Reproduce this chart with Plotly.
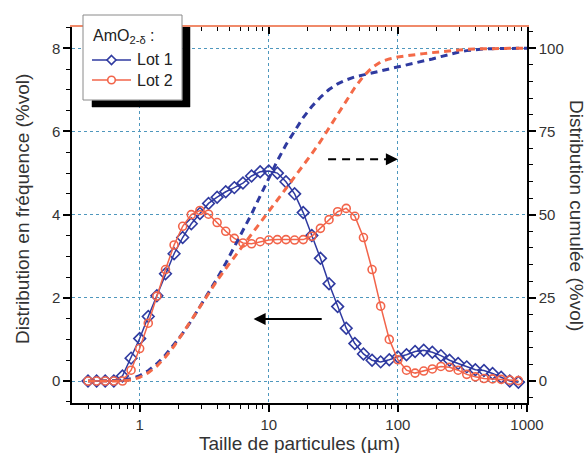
import math
import plotly.graph_objects as go

# ---------------- data ----------------
sizes = [0.398, 0.464, 0.541, 0.631, 0.736, 0.858, 1.000, 1.166, 1.359, 1.585,
         1.848, 2.154, 2.512, 2.929, 3.415, 3.981, 4.642, 5.412, 6.310, 7.356,
         8.577, 10.00, 11.66, 13.59, 15.85, 18.48, 21.54, 25.12, 29.29, 34.15,
         39.81, 46.42, 54.12, 63.10, 73.56, 85.77, 100.0, 116.6, 135.9, 158.5,
         184.8, 215.4, 251.2, 292.9, 341.5, 398.1, 464.2, 541.2, 631.0, 735.6,
         857.7]

lot1_freq = [0, 0, 0, 0, 0.12, 0.55, 1.02, 1.55, 2.05, 2.58,
             3.06, 3.45, 3.78, 4.03, 4.27, 4.42, 4.55, 4.65, 4.76, 4.93,
             5.03, 5.05, 5.00, 4.79, 4.50, 4.05, 3.50, 2.95, 2.34, 1.79,
             1.27, 0.90, 0.65, 0.50, 0.46, 0.51, 0.58, 0.63, 0.71, 0.74,
             0.69, 0.61, 0.50, 0.42, 0.34, 0.27, 0.25, 0.18, 0.09, 0.00,
             -0.03]

lot2_freq = [0, 0, 0, 0, 0, 0.26, 0.78, 1.39, 2.04, 2.68,
             3.27, 3.72, 4.00, 4.10, 4.01, 3.81, 3.60, 3.43, 3.32, 3.30,
             3.35, 3.39, 3.40, 3.40, 3.39, 3.40, 3.48, 3.67, 3.88, 4.07,
             4.15, 3.96, 3.45, 2.68, 1.80, 1.00, 0.51, 0.26, 0.19, 0.24,
             0.29, 0.35, 0.33, 0.26, 0.16, 0.10, 0.06, 0.05, 0.04, 0.02,
             0.01]

cum_sizes = sizes + [1000.0]

lot1_cum = [0, 0, 0, 0, 0.2, 0.7, 1.6, 3.1, 5.2, 7.8,
            10.9, 14.3, 18.1, 22.2, 26.5, 30.8, 35.4, 40.2, 45.2, 50.2,
            55.6, 61.0, 66.2, 71.0, 75.3, 79.2, 82.5, 85.3, 87.6, 89.3,
            90.5, 91.4, 92.0, 92.6, 93.1, 93.6, 94.2, 94.8, 95.4, 96.1,
            96.8, 97.5, 98.2, 98.8, 99.3, 99.6, 99.8, 99.9, 100, 100,
            100, 100]

lot2_cum = [0, 0, 0, 0, 0, 0.3, 1.1, 2.5, 4.5, 7.2,
            10.5, 14.3, 18.3, 22.4, 26.4, 30.2, 33.8, 37.3, 40.7, 44.1,
            47.5, 51.0, 54.4, 57.8, 61.3, 64.8, 68.3, 72.0, 76.0, 80.1,
            84.3, 88.2, 91.6, 94.2, 95.9, 96.8, 97.4, 97.8, 98.1, 98.4,
            98.7, 99.0, 99.3, 99.5, 99.7, 99.8, 99.9, 100, 100, 100,
            100, 100]

series_names = ["Lot 1", "Lot 2"]
legend_title = "AmO<sub>2-δ</sub> :"

x_ticks = [1, 10, 100, 1000]
x_tick_labels = ["1", "10", "100", "1000"]
x_minor = [0.4, 0.5, 0.6, 0.7, 0.8, 0.9,
           2, 3, 4, 5, 6, 7, 8, 9,
           20, 30, 40, 50, 60, 70, 80, 90,
           200, 300, 400, 500, 600, 700, 800, 900]
y_ticks = [0, 2, 4, 6, 8]
y2_ticks = [0, 25, 50, 75, 100]

# ---------------- style ----------------
FONT = "Liberation Sans, Arial, sans-serif"
BLUE = "#2f3aa0"
RED = "#f2644a"
RED_D = "#f46a48"
GRID = "#4f97bd"
TXT = "#333333"

W, H = 587, 453
ML, MR, MT, MB = 72, 60, 27, 50
PW, PH = W - ML - MR, H - MT - MB

X_RANGE = [-0.524, 3.0]
Y_RANGE = [-0.529, 8.512]
Y2_RANGE = [Y_RANGE[0] * 12.5, Y_RANGE[1] * 12.5]


def px(x):
    return (x - ML) / PW


def py(y):
    return (H - MB - y) / PH


def dx(x):
    # pixel -> data value on the log x axis
    return 10 ** (X_RANGE[0] + px(x) * (X_RANGE[1] - X_RANGE[0]))


def dy(y):
    return Y_RANGE[0] + py(y) * (Y_RANGE[1] - Y_RANGE[0])


fig = go.Figure()

fig.add_trace(go.Scatter(x=cum_sizes, y=lot1_cum, yaxis="y2", mode="lines",
                         line=dict(color=BLUE, width=3, dash="7px,5px"),
                         showlegend=False, hoverinfo="skip"))
fig.add_trace(go.Scatter(x=cum_sizes, y=lot2_cum, yaxis="y2", mode="lines",
                         line=dict(color=RED_D, width=3, dash="7px,5px"),
                         showlegend=False, hoverinfo="skip"))
fig.add_trace(go.Scatter(x=sizes, y=lot1_freq, mode="lines+markers", name=series_names[0],
                         line=dict(color=BLUE, width=1.5),
                         marker=dict(symbol="diamond-open", size=9, color=BLUE,
                                     line=dict(width=1.6, color=BLUE))))
fig.add_trace(go.Scatter(x=sizes, y=lot2_freq, mode="lines+markers", name=series_names[1],
                         line=dict(color=RED, width=1.5),
                         marker=dict(symbol="circle-open", size=8, color=RED,
                                     line=dict(width=1.6, color=RED))))
# dummy trace so the top axis renders
fig.add_trace(go.Scatter(x=[1], y=[None], xaxis="x2", showlegend=False,
                         hoverinfo="skip", mode="lines"))

# legend drop shadow: L-shaped filled polygon (right + bottom strips)
SHADOW_PX = [(182.5, 23), (190, 23), (190, 107), (92, 107), (92, 100.5),
             (182.5, 100.5), (182.5, 23)]
fig.add_trace(go.Scatter(x=[dx(p[0]) for p in SHADOW_PX],
                         y=[dy(p[1]) for p in SHADOW_PX],
                         mode="lines", fill="toself", fillcolor="#000000",
                         line=dict(width=0.5, color="#000000"),
                         showlegend=False, hoverinfo="skip"))

axis_common = dict(tickfont=dict(family=FONT, size=15, color=TXT))

fig.update_layout(
    width=W, height=H,
    margin=dict(l=ML, r=MR, t=MT, b=MB),
    paper_bgcolor="white", plot_bgcolor="white",
    font=dict(family=FONT, color=TXT),
    showlegend=False,
    hovermode=False,
    xaxis=dict(type="log", range=X_RANGE, tickvals=x_ticks, ticktext=x_tick_labels,
               ticks="outside", ticklen=7, tickwidth=1.5, tickcolor="black",
               minor=dict(tickvals=x_minor, ticks="outside", ticklen=4,
                          tickwidth=1.2, tickcolor="black", showgrid=False),
               showline=True, linecolor="black", linewidth=1.5,
               showgrid=True, gridcolor=GRID, gridwidth=1, griddash="dot",
               zeroline=False, **axis_common),
    xaxis2=dict(type="log", range=X_RANGE, overlaying="x", side="top",
                tickvals=x_ticks, showticklabels=False,
                ticks="inside", ticklen=7, tickwidth=1.5, tickcolor="black",
                minor=dict(tickvals=x_minor, ticks="inside", ticklen=4,
                           tickwidth=1.2, tickcolor="black"),
                showline=True, linecolor="#f08a6a", linewidth=1.5,
                showgrid=False, zeroline=False),
    yaxis=dict(range=Y_RANGE, tickvals=y_ticks, ticks="outside", ticklen=7,
               tickwidth=1.5, tickcolor="black",
               minor=dict(dtick=0.5, ticks="outside", ticklen=4, tickwidth=1.2,
                          tickcolor="black", showgrid=False),
               showline=True, linecolor="black", linewidth=1.5,
               showgrid=True, gridcolor=GRID, gridwidth=1, griddash="dot",
               zeroline=False, **axis_common),
    yaxis2=dict(range=Y2_RANGE, overlaying="y", side="right", tickvals=y2_ticks,
                ticks="outside", ticklen=7, tickwidth=1.5, tickcolor="black",
                minor=dict(dtick=5, ticks="outside", ticklen=4, tickwidth=1.2,
                           tickcolor="black", showgrid=False),
                showline=True, linecolor="black", linewidth=1.5,
                showgrid=False, zeroline=False, **axis_common),
)

# ---------------- manual legend ----------------
fig.add_shape(type="rect", xref="paper", yref="paper",
              x0=px(83), x1=px(182), y0=py(100), y1=py(15),
              fillcolor="white", line=dict(width=1, color="#8a8a8a"), layer="above")
fig.add_annotation(text=legend_title, xref="paper", yref="paper",
                   x=px(91), y=py(37), xanchor="left", yanchor="middle",
                   showarrow=False, font=dict(family=FONT, size=16, color="#222"))
legend_rows = [(60, BLUE, "diamond"), (80, RED, "circle")]
for name, (ry, col, sym) in zip(series_names, legend_rows):
    fig.add_shape(type="line", xref="paper", yref="paper",
                  x0=px(92), x1=px(131), y0=py(ry), y1=py(ry),
                  line=dict(color=col, width=1.5), layer="above")
    cx = 111.5
    if sym == "diamond":
        r = 4.5
        path = (f"M {px(cx)},{py(ry - r)} L {px(cx + r)},{py(ry)} "
                f"L {px(cx)},{py(ry + r)} L {px(cx - r)},{py(ry)} Z")
        fig.add_shape(type="path", xref="paper", yref="paper", path=path,
                      fillcolor="white", line=dict(color=col, width=1.6), layer="above")
    else:
        r = 3.8
        fig.add_shape(type="circle", xref="paper", yref="paper",
                      x0=px(cx - r), x1=px(cx + r), y0=py(ry + r), y1=py(ry - r),
                      fillcolor="white", line=dict(color=col, width=1.6), layer="above")
    fig.add_annotation(text=name, xref="paper", yref="paper",
                       x=px(135), y=py(ry), xanchor="left", yanchor="middle",
                       showarrow=False, font=dict(family=FONT, size=16, color="#222"))

# ---------------- axis titles ----------------
fig.add_annotation(text="Taille de particules (µm)", xref="paper", yref="paper",
                   x=0.5, y=0, yshift=-40, showarrow=False, yanchor="middle",
                   font=dict(family=FONT, size=19, color=TXT))
fig.add_annotation(text="Distribution en fréquence (%vol)", xref="paper", yref="paper",
                   x=0, y=0.5, yshift=6, xshift=-50, showarrow=False, textangle=-90,
                   xanchor="center", font=dict(family=FONT, size=19, color=TXT))
fig.add_annotation(text="Distribution cumulée (%vol)", xref="paper", yref="paper",
                   x=1, y=0.5, xshift=50, showarrow=False, textangle=90,
                   xanchor="center", font=dict(family=FONT, size=19, color=TXT))

# ---------------- arrows ----------------
ARROW_L = dict(tip=7.63, tail=26.4, y=1.49)
ARROW_R = dict(tail=28.8, tip=100.0, y=5.33)
fig.add_annotation(x=math.log10(ARROW_L["tip"]), y=ARROW_L["y"],
                   ax=math.log10(ARROW_L["tail"]), ay=ARROW_L["y"],
                   xref="x", yref="y", axref="x", ayref="y", text="",
                   showarrow=True, arrowhead=2, arrowsize=1.2, arrowwidth=2,
                   arrowcolor="black")
fig.add_shape(type="line", xref="x", yref="y",
              x0=ARROW_R["tail"], x1=ARROW_R["tip"] * 0.9,
              y0=ARROW_R["y"], y1=ARROW_R["y"],
              line=dict(color="black", width=2, dash="8px,6px"))
fig.add_annotation(x=math.log10(ARROW_R["tip"]), y=ARROW_R["y"], ax=-12, ay=0,
                   xref="x", yref="y", text="", showarrow=True, arrowhead=2,
                   arrowsize=1.2, arrowwidth=2, arrowcolor="black")

fig.write_html("out.html",
               config={"displayModeBar": False},
               post_script="document.body.style.margin='0';"
                           "document.body.style.overflow='hidden';")
